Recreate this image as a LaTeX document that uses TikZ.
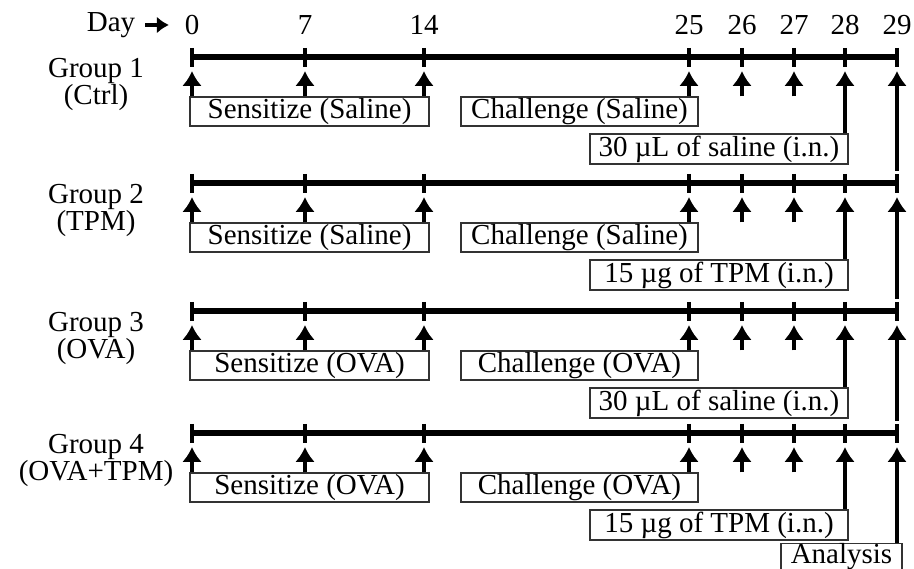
\documentclass[tikz,border=0pt]{standalone}
\usepackage{fontspec}
\setmainfont{Liberation Serif}
\usetikzlibrary{arrows.meta,positioning}
\tikzset{every picture/.style={/utils/exec={\fontsize{29}{32}\selectfont}}}

\begin{document}
\begin{tikzpicture}[x=1pt,y=-1pt]
  \tikzstyle{timeline} = [line width=6.5pt]
  \tikzstyle{daytick} = [line width=3.5pt]
  \tikzstyle{stagebox} = [rectangle, draw=black!80, line width=1.3pt, minimum height=29pt, inner sep=0pt, text centered]
  \tikzstyle{grouplabel} = [align=center, font=\fontsize{29}{27}\selectfont]
  \tikzstyle{arrow} = [line width=4.5pt, -{Latex[length=15pt,width=20pt]}, shorten >=14pt]

  \useasboundingbox (0,0) rectangle (914,569);

  % day axis on top
  \node (day) at (111,25) {Day};
  \foreach \d/\x in {0/192,7/305,14/424,25/689,26/742,27/794,28/845,29/897}
    \node (d\d) at (\x,25) {\d};
  \draw [line width=4.5pt, -{Latex[length=12pt,width=17pt]}, shorten >=6pt] (day) -- (d0);

  % one timeline per group
  \foreach \g/\y/\sub/\sens/\chal/\trt in {1/57/Ctrl/Saline/Saline/30 µL of saline (i.n.), 2/183/TPM/Saline/Saline/15 µg of TPM (i.n.), 3/311/OVA/OVA/OVA/30 µL of saline (i.n.), 4/433/OVA+TPM/OVA/OVA/15 µg of TPM (i.n.)} {
    \node (grp\g) [grouplabel] at (96,\y+27) {Group \g\\(\sub)};
    \foreach \d/\x in {0/192,7/305,14/424,25/689,26/742,27/794,28/845,29/897} {
      \coordinate (t\g-\d) at (\x,\y);
      \draw [daytick] ([yshift=9pt]t\g-\d) -- ([yshift=-10pt]t\g-\d);
    }
    \draw [timeline] (t\g-0) -- (t\g-29);
    \node (sens\g) [stagebox, minimum width=239pt] at (309.5,\y+54.5) {Sensitize (\sens)};
    \node (chal\g) [stagebox, minimum width=237pt] at (579.5,\y+54.5) {Challenge (\chal)};
    \node (trt\g) [stagebox, minimum width=258pt, minimum height=30pt] at (719,\y+92) {\trt};
    \foreach \d in {0,7,14} \draw [arrow] (sens\g.north -| t\g-\d) -- (t\g-\d);
    \foreach \d in {25,26,27} \draw [arrow] (chal\g.north -| t\g-\d) -- (t\g-\d);
    \draw [arrow] (trt\g.north -| t\g-28) -- (t\g-28);
  }

  \node (ana) [stagebox, minimum width=121pt, minimum height=24pt] at (841.5,557) {Analysis};

  % day 29 arrows run down to the next group
  \foreach \a/\b in {1/2,2/3,3/4} \draw [arrow] ([yshift=12pt]t\b-29) -- (t\a-29);
  \draw [arrow] (ana.north -| t4-29) -- (t4-29);
\end{tikzpicture}
\end{document}
